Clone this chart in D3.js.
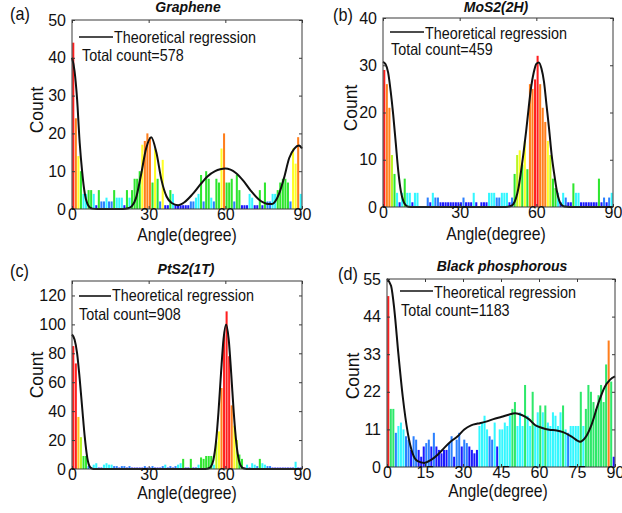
<!DOCTYPE html>
<html><head><meta charset="utf-8">
<script src="https://cdn.jsdelivr.net/npm/d3@7"></script>
<style>
body{margin:0;background:#fff;}
svg{display:block;font-family:"Liberation Sans",Arial,Helvetica,sans-serif;}
</style>
</head><body>
<svg id="chart" width="622" height="513"></svg>
<script>
// ---------- DATA ----------
const binCenters = [0.5,1.5,2.5,3.5,4.5,5.5,6.5,7.5,8.5,9.5,10.5,11.5,12.5,13.5,14.5,15.5,16.5,17.5,18.5,19.5,20.5,21.5,22.5,23.5,24.5,25.5,26.5,27.5,28.5,29.5,30.5,31.5,32.5,33.5,34.5,35.5,36.5,37.5,38.5,39.5,40.5,41.5,42.5,43.5,44.5,45.5,46.5,47.5,48.5,49.5,50.5,51.5,52.5,53.5,54.5,55.5,56.5,57.5,58.5,59.5,60.5,61.5,62.5,63.5,64.5,65.5,66.5,67.5,68.5,69.5,70.5,71.5,72.5,73.5,74.5,75.5,76.5,77.5,78.5,79.5,80.5,81.5,82.5,83.5,84.5,85.5,86.5,87.5,88.5,89.5];

const grapheneCounts = [44,24,14,10,4,4,5,5,4,1, 5,2,2,3,2,2,5,3,3,3, 1,5,3,5,8,8,10,17,18,20, 19,7,16,8,2,13,1,1,5,4, 1,1,1,1,1,1,2,2,3,4, 9,2,10,8,3,2,8,7,16,20, 7,7,8,2,9,5,1,1,1,4, 3,1,1,5,1,7,2,2,4,4, 5,7,8,8,7,2,16,12,19,4];
const mos2Counts = [29,26,21,11,7,3,1,3,6,3, 3,1,3,3,0,0,0,2,1,3, 2,2,1,1,1,1,1,1,1,1, 1,2,1,1,1,3,1,0,1,1, 1,3,3,3,2,2,3,3,3,1, 2,7,11,12,9,14,8,26,25,27, 32,26,21,18,14,11,6,4,3,1, 3,2,1,1,5,3,3,1,1,1, 1,1,1,1,6,1,2,1,2,3];
const pts2Counts = [85,73,36,22,9,9,2,1,3,4, 1,1,3,4,3,3,2,2,1,2, 2,1,2,1,1,1,1,1,2,1, 1,2,1,1,1,2,3,1,2,1, 2,3,4,7,1,1,7,1,1,3, 8,7,9,9,9,3,19,26,56,93, 109,78,44,30,20,10,7,1,3,1, 4,3,2,7,4,3,2,2,1,1, 1,1,1,1,1,1,1,5,1,1];
const bpCounts = [50,17,17,10,12,13,11,9,8,5, 9,8,5,3,6,7,8,6,10,6, 5,4,5,5,7,9,3,8,10,6, 8,7,6,5,4,5,12,13,15,11, 9,8,13,6,11,11,13,12,15,17, 19,12,16,12,24,15,12,22,12,16, 18,16,18,13,12,16,15,12,16,18, 11,10,12,12,12,12,22,12,17,24, 22,19,17,21,24,19,30,37,25,3];

const grapheneFitAngle = [0,1,2,3,4,5,6,7,8,10,15,20,22,23.5,25,27,29,31,33,35,37,39,41.5,44,47,50,53,56,58,60,62,64,67,70,73,75,77,78,79,81,83,85,87,88.8,90];
const grapheneFitCount = [40,36.5,29,17.6,9.7,4.1,1.4,0.4,0.1,0,0,0,0.2,0.8,2.8,9,16,19,15,7.7,3.3,1.6,1,1.8,3.8,6.3,8.6,10,10.5,10.7,10.4,9.6,7.5,4.8,2.6,1.7,1.3,1.3,1.6,4,8.3,13.5,16,16.8,16];
const mos2FitAngle = [0,1,2,3,4,5,6,7,8,9,10,12,48,50,51,52,53,54,55,56,57,58,59,60,61,62,63,64,65,66,67,68,69,70,71,73,90];
const mos2FitCount = [30.7,30.2,28.5,24.5,19.5,13.5,7.5,3.3,1.2,0.3,0.05,0,0,0.2,0.6,1.8,4,7.5,11.5,16,21,25.5,28.5,30.3,30.6,29.3,26.5,21.5,16.5,11,7,3.5,1.3,0.4,0.1,0,0];
const pts2FitAngle = [0,1,2,3,4,5,6,7,8,9,10,50,52.3,53.3,54.3,55.3,56.3,57.3,58.3,59.3,60.3,61.3,62.3,63.3,64.3,65.3,66.3,67.3,68.3,75,90];
const pts2FitCount = [93,89.5,80,62.5,42,22,7.5,1.5,0.2,0,0,0,0,0.3,1.5,6,18,39,66,90,100,90,66,39,18,6,1.5,0.3,0,0,0];
const bpFitAngle = [0,1.6,2.9,4.5,6.2,8.2,10.1,12.1,14.7,17.4,20,22.6,25.3,27.9,30.5,33.2,35.8,38.7,42,45.3,48,50.6,53.2,56,58.4,61,64,67,69.5,72.9,76.2,78.2,80.8,83.4,86,88,90];
const bpFitCount = [55,53,46,33,20.7,10,4,1.7,1.2,2.1,3.6,5.6,7.5,9,11,12.2,12.7,13.2,14,14.7,15.3,15.7,15.2,14,12.3,11.5,10.9,10.7,10.2,8.9,7.4,8.5,12.5,18.6,23.5,25.5,26.5];

const panelTitles = ["Graphene","MoS2(2H)","PtS2(1T)","Black phosphorous"];
const panelLetters = ["(a)","(b)","(c)","(d)"];
const totalCounts = [578,459,908,1183];
const yTicksA = [0,10,20,30,40,50];
const yTicksB = [0,10,20,30,40];
const yTicksC = [0,20,40,60,80,100,120];
const yTicksD = [0,11,22,33,44,55];
const xTicksABC = [0,30,60,90];
const xTicksD = [0,15,30,45,60,75,90];
const yMax = [50,40,130,55];

// ---------- STYLE / LAYOUT ----------
const C = {blue:"#1a1aff", dblue:"#2b80ff", cyan:"#33f7ff", green:"#2fe62f", spring:"#2ee86a",
           yg:"#b8f522", yel:"#ffff26", yo:"#ffc21f", ora:"#ff7e1c", red:"#ff1f1f"};
const colorScales = [
  d3.scaleThreshold().domain([1.5,2.5,4.5,11.5,17.5,30]).range([C.blue,C.dblue,C.cyan,C.green,C.yel,C.ora,C.red]),
  d3.scaleThreshold().domain([1.5,2.5,3.5,9.5,11.5,17.5,26.5]).range([C.blue,C.dblue,C.cyan,C.green,C.yg,C.yel,C.ora,C.red]),
  d3.scaleThreshold().domain([1.5,2.5,6.5,15,24,34,40,65]).range([C.blue,C.dblue,C.cyan,C.green,C.yg,C.yel,C.yo,C.ora,C.red]),
  d3.scaleThreshold().domain([6.5,10.5,16.5,33,45]).range([C.blue,C.dblue,C.cyan,C.spring,C.ora,C.red])
];

const panels = [
  {L:72,R:302,T:20,B:209, counts:grapheneCounts, fx:grapheneFitAngle, fy:grapheneFitCount, yt:yTicksA, xt:xTicksABC,
   letter:[10,20], title:[188,12], count:[43,110], angle:[187,240.5], leg:{x1:79,x2:113,y:37,tx:114,ty:43,cx:82,cy:61}},
  {L:383,R:613,T:18,B:207, counts:mos2Counts, fx:mos2FitAngle, fy:mos2FitCount, yt:yTicksB, xt:xTicksABC,
   letter:[333,21], title:[496,12], count:[357,108], angle:[496,240], leg:{x1:390,x2:424,y:32,tx:425,ty:38.5,cx:391,cy:55}},
  {L:72,R:302,T:281,B:469, counts:pts2Counts, fx:pts2FitAngle, fy:pts2FitCount, yt:yTicksC, xt:xTicksABC,
   letter:[10,277], title:[186,274], count:[43,375], angle:[187,498.5], leg:{x1:79,x2:111,y:296,tx:112,ty:301,cx:79,cy:319.5}},
  {L:387,R:615,T:279,B:467, counts:bpCounts, fx:bpFitAngle, fy:bpFitCount, yt:yTicksD, xt:xTicksD,
   letter:[338,280], title:[502,271], count:[359,376], angle:[498,497], leg:{x1:400,x2:433,y:291,tx:434,ty:297.5,cx:401,cy:316}}
];

const svg = d3.select("#chart");
const axisColor = "#3a3a3a";

function txt(g, x, y, s, o) {
  o = o || {};
  const t = g.append("text")
    .attr("transform", `translate(${x},${y})` + (o.rot ? ` rotate(${o.rot})` : "") + (o.sx ? ` scale(${o.sx},1)` : ""))
    .attr("text-anchor", o.anchor || "start")
    .attr("font-size", o.size || 16)
    .attr("fill", "#111")
    .text(s);
  if (o.weight) t.attr("font-weight", o.weight);
  if (o.style) t.attr("font-style", o.style);
  return t;
}

panels.forEach((p, k) => {
  const g = svg.append("g");
  const x = d3.scaleLinear().domain([0,90]).range([p.L,p.R]);
  const y = d3.scaleLinear().domain([0,yMax[k]]).range([p.B,p.T]);
  const col = colorScales[k];
  const bw = x(0.8) - x(0);

  // bars
  g.append("g").selectAll("rect")
    .data(binCenters.map((c,i) => ({c, v:p.counts[i]})).filter(d => d.v > 0))
    .join("rect")
    .attr("x", d => x(d.c) - bw/2)
    .attr("width", bw)
    .attr("y", d => y(d.v))
    .attr("height", d => y(0) - y(d.v))
    .attr("fill", d => col(d.v));

  // regression curve
  const line = d3.line().x(d => x(d[0])).y(d => y(d[1])).curve(d3.curveMonotoneX);
  g.append("path")
    .datum(p.fx.map((a,i) => [a, p.fy[i]]))
    .attr("d", line)
    .attr("fill","none").attr("stroke","#111").attr("stroke-width",2);

  // box
  g.append("rect").attr("x",p.L).attr("y",p.T).attr("width",p.R-p.L).attr("height",p.B-p.T)
    .attr("fill","none").attr("stroke",axisColor).attr("stroke-width",1);

  // axes (inward ticks, mirrored on the opposite sides)
  const tl = 3;
  const yAxisL = d3.axisLeft(y).tickValues(p.yt).tickSize(-tl).tickPadding(6).tickFormat(d3.format("d"));
  const yAxisR = d3.axisRight(y).tickValues(p.yt).tickSize(-tl).tickFormat("");
  const xAxisB = d3.axisBottom(x).tickValues(p.xt).tickSize(-tl).tickPadding(0).tickFormat(d3.format("d"));
  const xAxisT = d3.axisTop(x).tickValues(p.xt).tickSize(-tl).tickFormat("");
  const styleAxis = sel => {
    sel.select(".domain").remove();
    sel.selectAll(".tick line").attr("stroke", axisColor);
    sel.selectAll(".tick text").attr("fill","#111").attr("font-size",16)
      .attr("font-family",'"Liberation Sans",Arial,sans-serif');
  };
  g.append("g").attr("transform",`translate(${p.L},0)`).call(yAxisL).call(styleAxis);
  g.append("g").attr("transform",`translate(${p.R},0)`).call(yAxisR).call(styleAxis);
  g.append("g").attr("transform",`translate(0,${p.B})`).call(xAxisB).call(styleAxis);
  g.append("g").attr("transform",`translate(0,${p.T})`).call(xAxisT).call(styleAxis);

  // texts
  txt(g, p.letter[0], p.letter[1], panelLetters[k], {size:18, sx:0.9});
  txt(g, p.title[0], p.title[1], panelTitles[k], {size:14, anchor:"middle", weight:"bold", style:"italic"});
  txt(g, p.count[0], p.count[1], "Count", {size:17.5, anchor:"middle", rot:-90});
  txt(g, p.angle[0], p.angle[1], "Angle(degree)", {size:17.5, anchor:"middle", sx:0.9});

  // legend
  g.append("line").attr("x1",p.leg.x1).attr("x2",p.leg.x2).attr("y1",p.leg.y).attr("y2",p.leg.y)
    .attr("stroke","#111").attr("stroke-width",1.6);
  txt(g, p.leg.tx, p.leg.ty, "Theoretical regression", {size:16.5, sx:0.87});
  txt(g, p.leg.cx, p.leg.cy, "Total count=" + totalCounts[k], {size:16.5, sx:0.87});
});
</script>
</body></html>
